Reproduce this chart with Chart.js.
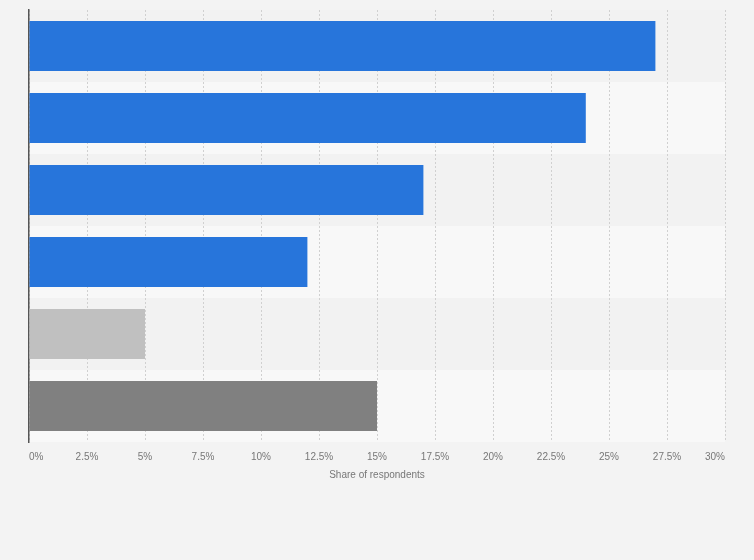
<!DOCTYPE html>
<html><head><meta charset="utf-8">
<script src="https://cdn.jsdelivr.net/npm/chart.js@4.4.1/dist/chart.umd.min.js"></script>
<style>html,body{margin:0;padding:0;background:#f3f3f3;}#wrap{width:754px;height:560px;position:relative;}</style>
</head><body><div id="wrap"><canvas id="c" width="754" height="560"></canvas></div>
<script>
const categories = ["A","B","C","D","E","F"];
const values = [27, 24, 17, 12, 5, 15];
const barColors = ["#2775db","#2775db","#2775db","#2775db","#c0c0c0","#808080"];
const tickLabels = ["0%","2.5%","5%","7.5%","10%","12.5%","15%","17.5%","20%","22.5%","25%","27.5%","30%"];
const axisTitle = "Share of respondents";

const bands = {
  id:'bands',
  beforeDraw(chart){
    const {ctx, chartArea:a, scales:{y}} = chart;
    ctx.save();
    ctx.fillStyle='#f3f3f3'; ctx.fillRect(0,0,chart.width,chart.height);
    categories.forEach((c,i)=>{
      const top = i===0 ? a.top : (y.getPixelForValue(i-1)+y.getPixelForValue(i))/2;
      const bot = i===categories.length-1 ? a.bottom : (y.getPixelForValue(i)+y.getPixelForValue(i+1))/2;
      ctx.fillStyle = i%2===0 ? '#f2f2f2' : '#f8f8f8';
      ctx.fillRect(a.left, top, a.right-a.left, bot-top);
    });
    ctx.restore();
  }
};

new Chart(document.getElementById('c'), {
  type:'bar',
  data:{labels:categories, datasets:[{data:values, backgroundColor:barColors, barPercentage:0.695, categoryPercentage:1}]},
  options:{
    indexAxis:'y', responsive:false, animation:false,
    layout:{padding:{left:29, right:29, top:10, bottom:79}},
    plugins:{legend:{display:false}, tooltip:{enabled:false}},
    scales:{
      x:{min:0,max:30,
        ticks:{stepSize:2.5, color:'#777', align:'inner', font:{family:'Liberation Sans, Arial', size:10}, padding:9,
          callback:(v,i)=>tickLabels[i]},
        grid:{color:'#d0d0d0', drawTicks:false, tickLength:0},
        border:{display:false, dash:[2,2]},
        title:{display:true, text:axisTitle, color:'#777', font:{family:'Liberation Sans, Arial', size:10}, padding:{top:-3, bottom:0}}
      },
      y:{ticks:{display:false}, grid:{display:false, drawTicks:false},
        border:{display:true, color:'#555', width:1.5}}
    }
  },
  plugins:[bands]
});
</script></body></html>
